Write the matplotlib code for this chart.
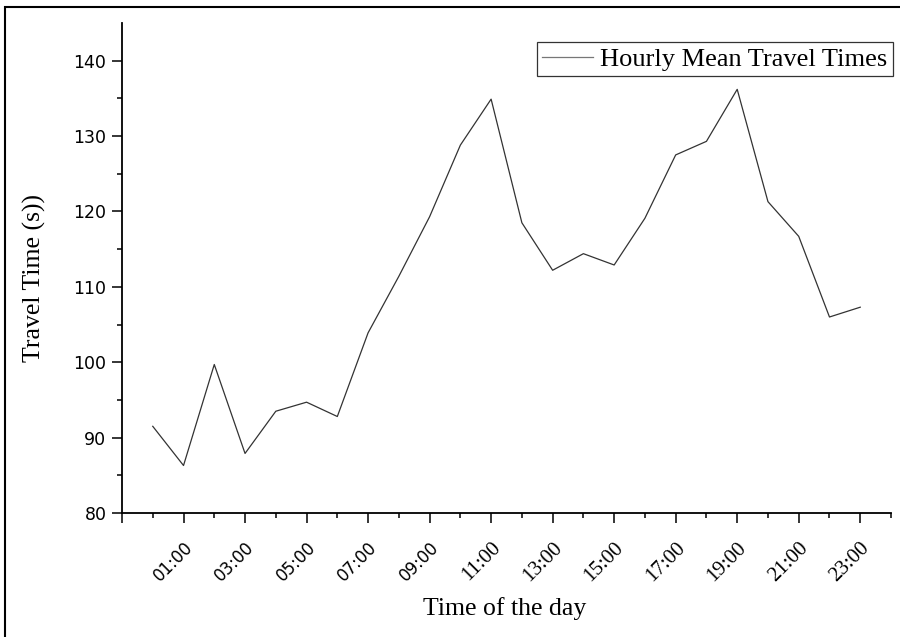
import matplotlib.pyplot as plt
from matplotlib.patches import Rectangle

# hourly mean travel time, hours 00..23
hours = list(range(24))
travel_time = [91.5, 86.3, 99.7, 87.9, 93.5, 94.7, 92.8, 103.9, 111.4, 119.3,
               128.8, 134.9, 118.5, 112.2, 114.4, 112.9, 119.1, 127.5, 129.3,
               136.2, 121.3, 116.7, 106.0, 107.3]
tick_hours = list(range(-1, 24, 2))
tick_labels = ["" if h < 0 else "%02d:00" % h for h in tick_hours]
y_ticks = [80, 90, 100, 110, 120, 130, 140]

serif = "Liberation Serif"
sans = "DejaVu Sans"

fig = plt.figure(figsize=(9, 6.37), dpi=100)
ax = fig.add_axes([122 / 900, 1 - 513 / 637, 769 / 900, 490 / 637])

ax.plot(hours, travel_time, color="#333333", lw=0.9, label="Hourly Mean Travel Times")

ax.set_xlim(-1, 24)
ax.set_ylim(80, 145)
ax.set_xticks(tick_hours)
ax.set_xticks(range(0, 25, 2), minor=True)
ax.set_yticks(y_ticks)
ax.set_yticks(range(85, 145, 10), minor=True)
ax.set_xticklabels(tick_labels, rotation=45, ha="right", va="top", rotation_mode="anchor")
for h, lab in zip(tick_hours, ax.get_xticklabels()):
    if h < 10:
        lab.set_fontfamily(sans)
        lab.set_fontsize(12)
    else:
        lab.set_fontfamily(serif)
        lab.set_fontsize(15)
ax.set_yticklabels([str(v) for v in y_ticks], fontfamily=sans, fontsize=12.5)

for s in ["top", "right"]:
    ax.spines[s].set_visible(False)
for s in ["left", "bottom"]:
    ax.spines[s].set_linewidth(1.3)
ax.tick_params(which="major", direction="out", length=7.2, width=1.1)
ax.tick_params(which="minor", direction="out", length=3.6, width=1.1)
ax.tick_params(axis="x", which="major", pad=11)
ax.tick_params(axis="y", pad=4)

ax.set_xlabel("Time of the day", fontfamily=serif, fontsize=18.5)
ax.set_ylabel("Travel Time (s))", fontfamily=serif, fontsize=18.5)
ax.xaxis.set_label_coords(0.497, -0.172)
ax.yaxis.set_label_coords(-0.099, 0.48)

leg = ax.legend(loc="upper right", bbox_to_anchor=(893 / 900, 1 - 42 / 637),
                bbox_transform=fig.transFigure, borderaxespad=0, fancybox=False,
                edgecolor="black", handlelength=1.9, handletextpad=0.3,
                borderpad=0.2, prop={"family": serif, "size": 19})
leg.get_frame().set_linewidth(0.9)
leg.get_lines()[0].set_color("#777777")

# frame around the whole figure
fig.patches.append(Rectangle((5 / 900, -0.05), 1.1, 1 - 7 / 637 + 0.05,
                             transform=fig.transFigure, fill=False,
                             lw=1.5, edgecolor="black"))

fig.savefig("out.png", dpi=100)
